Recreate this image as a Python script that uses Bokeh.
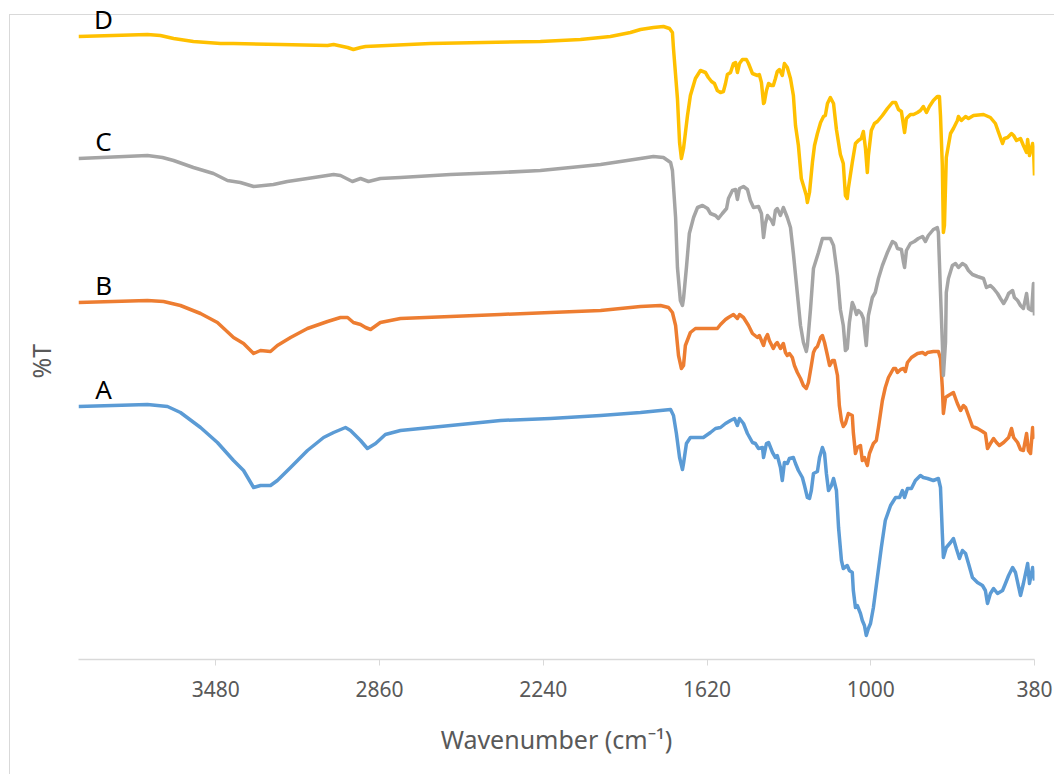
from bokeh.plotting import figure
from bokeh.models import Range1d, FixedTicker, Label, Title
from bokeh.embed import file_html
from bokeh.resources import INLINE

# ---------------- data (wavenumber in cm-1, %T offset in a.u.) ----------------
x_ticks = [3480, 2860, 2240, 1620, 1000, 380]
series_names = ["A", "B", "C", "D"]
series_colors = ["#5B9BD5", "#ED7D31", "#A5A5A5", "#FFC000"]

wn_D = [4000, 3739, 3690, 3640, 3565, 3462, 3413, 3235, 3057, 3034,
        2981, 2959, 2932, 2913, 2667, 2251, 2099, 1986, 1910, 1872,
        1823, 1785, 1762, 1751, 1747, 1732, 1724, 1717, 1709, 1694,
        1683, 1664, 1645, 1626, 1615, 1603, 1592, 1581, 1569, 1558,
        1550, 1543, 1531, 1520, 1512, 1505, 1497, 1486, 1471, 1463,
        1448, 1429, 1422, 1414, 1406, 1403, 1395, 1387, 1376, 1369,
        1361, 1354, 1346, 1335, 1327, 1316, 1304, 1293, 1285, 1274,
        1263, 1255, 1244, 1240, 1232, 1221, 1213, 1202, 1190, 1179,
        1172, 1164, 1153, 1141, 1130, 1115, 1104, 1096, 1089, 1085,
        1070, 1058, 1047, 1036, 1028, 1020, 1013, 1009, 998, 986,
        975, 956, 937, 918, 906, 895, 884, 876, 872, 865,
        850, 838, 823, 812, 801, 789, 778, 763, 748, 740,
        736, 729, 725, 721, 714, 698, 687, 672, 668, 657,
        641, 630, 611, 573, 547, 528, 516, 501, 494, 482,
        467, 459, 448, 433, 422, 410, 406, 399, 387, 384,
        380]
T_D = [623, 625, 624, 621, 618, 616, 616, 615, 614, 615,
       612, 610, 612, 613, 616, 618, 620, 623, 627, 630,
       632, 633, 631, 627, 611, 561, 517, 501, 511, 544,
       564, 581, 589, 587, 582, 578, 576, 569, 567, 568,
       576, 585, 587, 596, 597, 587, 596, 600, 600, 596,
       586, 584, 585, 577, 556, 557, 569, 576, 574, 574,
       581, 588, 590, 584, 596, 592, 581, 564, 534, 514,
       481, 474, 464, 457, 467, 497, 514, 526, 537, 543,
       544, 556, 562, 556, 530, 505, 496, 464, 461, 471,
       497, 516, 519, 521, 528, 511, 487, 504, 529, 536,
       538, 544, 551, 557, 557, 550, 548, 534, 527, 541,
       545, 545, 547, 549, 553, 547, 553, 559, 563, 563,
       544, 494, 427, 434, 502, 526, 531, 539, 543, 539,
       543, 541, 544, 545, 542, 536, 527, 516, 521, 522,
       526, 524, 519, 521, 514, 507, 520, 504, 516, 512,
       484]

wn_C = [4000, 3739, 3682, 3640, 3565, 3489, 3436, 3387, 3337, 3262,
        3209, 3133, 3034, 3008, 2963, 2932, 2902, 2857, 2781, 2591,
        2402, 2251, 2023, 1872, 1823, 1785, 1758, 1751, 1739, 1732,
        1721, 1713, 1709, 1698, 1687, 1671, 1656, 1637, 1618, 1607,
        1588, 1577, 1562, 1546, 1539, 1524, 1512, 1505, 1497, 1482,
        1467, 1456, 1444, 1425, 1414, 1406, 1399, 1391, 1376, 1369,
        1361, 1354, 1342, 1331, 1316, 1304, 1293, 1278, 1266, 1255,
        1244, 1240, 1228, 1217, 1198, 1183, 1172, 1153, 1141, 1126,
        1115, 1104, 1096, 1089, 1081, 1070, 1062, 1054, 1047, 1036,
        1028, 1020, 1017, 1009, 994, 983, 971, 956, 937, 918,
        906, 899, 884, 876, 872, 865, 850, 835, 820, 804,
        793, 782, 763, 748, 744, 736, 729, 725, 717, 714,
        706, 691, 679, 668, 653, 641, 630, 615, 596, 573,
        562, 547, 535, 520, 509, 497, 486, 478, 463, 456,
        444, 433, 422, 410, 403, 391, 384, 380]
T_C = [501, 504, 502, 499, 492, 486, 479, 477, 473, 475,
       478, 481, 485, 484, 478, 481, 478, 481, 482, 485,
       487, 489, 495, 501, 503, 502, 497, 489, 442, 392,
       359, 354, 361, 392, 426, 442, 452, 454, 451, 446,
       444, 441, 446, 451, 461, 469, 470, 460, 471, 473,
       470, 459, 452, 453, 446, 422, 436, 444, 439, 435,
       449, 451, 444, 452, 442, 432, 406, 366, 334, 317,
       308, 314, 351, 391, 407, 421, 421, 421, 414, 384,
       350, 334, 309, 311, 337, 357, 352, 345, 349, 346,
       341, 321, 314, 344, 362, 367, 381, 394, 407, 418,
       416, 411, 410, 397, 392, 409, 416, 418, 421, 423,
       418, 424, 430, 432, 427, 367, 317, 284, 317, 367,
       381, 394, 396, 392, 396, 394, 389, 385, 383, 381,
       372, 374, 371, 366, 361, 356, 361, 366, 369, 362,
       359, 354, 351, 366, 351, 349, 376, 344]

wn_B = [4000, 3739, 3678, 3614, 3538, 3474, 3413, 3375, 3337, 3311,
        3273, 3247, 3197, 3133, 3057, 3008, 2981, 2959, 2932, 2913,
        2894, 2857, 2781, 2591, 2402, 2213, 2023, 1872, 1796, 1766,
        1751, 1739, 1728, 1717, 1709, 1702, 1683, 1664, 1618, 1581,
        1569, 1550, 1539, 1520, 1505, 1497, 1482, 1463, 1448, 1429,
        1422, 1414, 1406, 1399, 1391, 1384, 1369, 1361, 1354, 1342,
        1331, 1323, 1316, 1308, 1297, 1289, 1278, 1266, 1255, 1244,
        1236, 1225, 1217, 1210, 1202, 1190, 1183, 1175, 1164, 1156,
        1145, 1138, 1126, 1119, 1111, 1104, 1096, 1085, 1070, 1066,
        1058, 1051, 1039, 1032, 1024, 1013, 1005, 990, 979, 971,
        956, 945, 933, 914, 906, 899, 887, 876, 869, 861,
        846, 823, 804, 793, 785, 763, 744, 736, 729, 725,
        717, 706, 687, 679, 672, 660, 649, 641, 630, 615,
        596, 577, 566, 558, 547, 535, 524, 513, 497, 478,
        467, 459, 444, 433, 422, 410, 403, 395, 387, 384,
        380]
T_B = [357, 359, 358, 354, 346, 337, 322, 316, 306, 309,
       308, 314, 322, 331, 338, 342, 342, 337, 335, 332,
       330, 337, 341, 343, 345, 347, 349, 353, 354, 352,
       347, 334, 304, 291, 294, 314, 327, 331, 331, 331,
       335, 340, 342, 345, 341, 345, 342, 334, 326, 322,
       324, 319, 314, 321, 325, 319, 311, 315, 317, 311,
       316, 307, 304, 306, 302, 294, 287, 281, 274, 271,
       277, 294, 307, 311, 313, 322, 324, 317, 304, 294,
       299, 299, 284, 254, 239, 233, 236, 246, 244, 227,
       206, 212, 214, 199, 202, 194, 206, 216, 219, 232,
       259, 272, 282, 291, 291, 287, 290, 291, 288, 297,
       302, 306, 307, 305, 307, 308, 308, 301, 272, 246,
       262, 264, 267, 261, 256, 249, 254, 252, 244, 233,
       231, 228, 226, 211, 216, 221, 217, 214, 217, 222,
       231, 222, 217, 210, 209, 226, 209, 206, 232, 222,
       224]

wn_A = [4000, 3739, 3663, 3614, 3538, 3474, 3413, 3375, 3337, 3311,
        3273, 3247, 3197, 3133, 3072, 3034, 2989, 2970, 2932, 2906,
        2875, 2838, 2781, 2591, 2402, 2213, 2023, 1872, 1796, 1758,
        1747, 1736, 1724, 1713, 1709, 1698, 1683, 1653, 1634, 1607,
        1588, 1569, 1550, 1531, 1516, 1505, 1497, 1482, 1467, 1448,
        1437, 1425, 1410, 1406, 1395, 1387, 1372, 1361, 1354, 1342,
        1335, 1327, 1316, 1308, 1293, 1285, 1274, 1259, 1251, 1240,
        1232, 1225, 1217, 1202, 1194, 1183, 1175, 1168, 1160, 1149,
        1141, 1130, 1122, 1111, 1104, 1089, 1081, 1070, 1066, 1058,
        1051, 1039, 1032, 1024, 1017, 1009, 1001, 990, 975, 960,
        945, 925, 906, 891, 880, 872, 861, 846, 831, 812,
        801, 785, 763, 744, 736, 729, 725, 714, 698, 687,
        676, 664, 653, 641, 630, 615, 596, 577, 566, 558,
        547, 535, 520, 501, 490, 478, 463, 452, 433, 422,
        406, 399, 387, 380]
T_A = [253, 255, 253, 247, 232, 217, 199, 189, 172, 174,
       174, 179, 192, 209, 222, 227, 232, 229, 219, 211,
       216, 225, 229, 234, 239, 241, 244, 247, 249, 250,
       244, 226, 202, 190, 196, 216, 222, 222, 222, 227,
       231, 232, 236, 239, 241, 234, 241, 236, 226, 217,
       216, 211, 212, 202, 216, 217, 207, 202, 204, 192,
       179, 197, 196, 201, 202, 196, 189, 182, 174, 162,
       161, 169, 186, 188, 202, 212, 206, 186, 169, 174,
       181, 169, 132, 99, 91, 94, 89, 87, 69, 52,
       54, 46, 39, 34, 24, 31, 36, 52, 82, 112,
       139, 154, 162, 162, 169, 162, 171, 171, 179, 184,
       182, 181, 179, 181, 172, 126, 102, 112, 117, 121,
       111, 101, 109, 106, 96, 82, 77, 74, 69, 56,
       66, 71, 66, 69, 76, 84, 92, 87, 64, 76,
       96, 76, 92, 79]

label_dx = 95     # label offset from the first point, cm-1
label_dy = 18     # label offset above the first point, a.u.

# ---------------- figure ----------------
FONT = "Noto Sans"
p = figure(width=1054, height=774, output_backend="svg", toolbar_location=None,
           x_range=Range1d(4000, 380), y_range=Range1d(0, 659),
           min_border_left=78, min_border_right=20, min_border_top=0,
           min_border_bottom=115)
p.background_fill_color = None
p.border_fill_color = None
p.outline_line_color = None
p.grid.visible = False
p.styles = {
    "background-color": "white",
    "background-image": "linear-gradient(#d9d9d9, #d9d9d9), linear-gradient(#d9d9d9, #d9d9d9)",
    "background-size": "100% 1px, 1px 100%",
    "background-position": "9px 14px, 9px 14px",
    "background-repeat": "no-repeat",
}

all_wn = [wn_A, wn_B, wn_C, wn_D]
all_T = [T_A, T_B, T_C, T_D]
for name, color, wn, T in zip(series_names, series_colors, all_wn, all_T):
    p.line(wn, T, line_color=color, line_width=3.5, line_join="round")
    p.add_layout(Label(x=wn[0] - label_dx, y=T[0] + label_dy, text=name,
                       text_font=FONT, text_font_size="26px", text_color="black",
                       text_align="center", text_baseline="middle"))

xa = p.xaxis[0]
xa.ticker = FixedTicker(ticks=x_ticks)
xa.axis_line_color = "#d9d9d9"
xa.axis_line_width = 1.5
xa.major_tick_line_color = "#d9d9d9"
xa.major_tick_in = 0
xa.major_tick_out = 6
xa.minor_tick_line_color = None
xa.major_label_standoff = 15
xa.major_label_text_font = FONT
xa.major_label_text_font_size = "21px"
xa.major_label_text_color = "#595959"
xa.axis_label = "Wavenumber (cm\u207b\u00b9)"
xa.axis_label_text_font = FONT
xa.axis_label_text_font_size = "25px"
xa.axis_label_text_font_style = "normal"
xa.axis_label_text_color = "#595959"
xa.axis_label_standoff = 22

p.yaxis.visible = False
p.add_layout(Title(text="%T", align="left", offset=281, standoff=42,
                   text_font=FONT, text_font_size="25px",
                   text_font_style="normal", text_color="#595959"), "left")

open("out.html", "w").write(file_html(p, INLINE))
